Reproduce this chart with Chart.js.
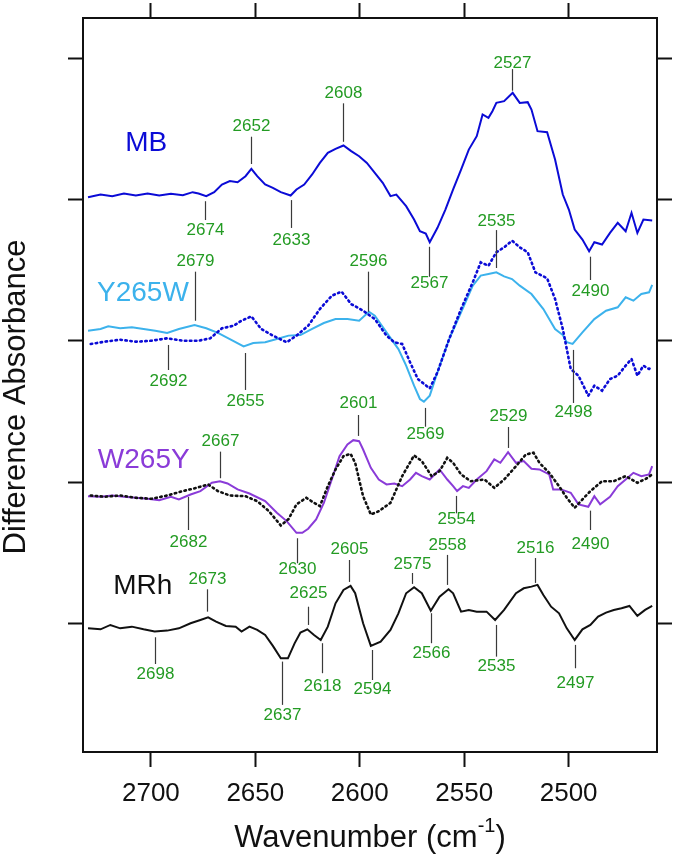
<!DOCTYPE html>
<html>
<head>
<meta charset="utf-8">
<script src="https://cdn.jsdelivr.net/npm/chart.js@4"></script>
<style>
  html, body { margin: 0; padding: 0; background: #fff; }
  #wrap { width: 675px; height: 858px; }
</style>
</head>
<body>
<div id="wrap"><canvas id="spectra" width="675" height="858"></canvas></div>
<script>
// difference spectra, S-H stretch region; [wavenumber, dA] pairs, dA in tick units
const mbSpectrum = [[2730.1,0.016],[2724.1,0.035],[2718.5,0.024],[2712.9,0.042],[2707.2,0.028],[2701.6,0.042],[2696.0,0.028],[2690.4,0.040],[2684.7,0.031],[2680.0,0.052],[2677.2,0.042],[2673.5,0.024],[2669.7,0.052],[2666.0,0.106],[2662.2,0.130],[2658.5,0.122],[2654.7,0.165],[2651.9,0.217],[2649.1,0.165],[2645.3,0.106],[2641.6,0.082],[2637.8,0.052],[2633.1,0.028],[2630.3,0.071],[2626.6,0.106],[2622.8,0.177],[2619.1,0.259],[2615.3,0.330],[2611.6,0.358],[2607.8,0.382],[2604.1,0.342],[2600.3,0.306],[2596.6,0.259],[2592.8,0.188],[2589.0,0.118],[2585.3,0.024],[2582.5,0.035],[2577.8,-0.047],[2574.0,-0.141],[2571.2,-0.224],[2568.4,-0.240],[2566.5,-0.302],[2562.8,-0.200],[2559.0,-0.071],[2555.3,0.071],[2551.5,0.212],[2547.8,0.353],[2544.0,0.448],[2541.2,0.601],[2538.4,0.577],[2536.5,0.624],[2534.6,0.683],[2530.9,0.695],[2526.8,0.754],[2523.4,0.683],[2519.6,0.688],[2517.8,0.636],[2514.9,0.483],[2510.3,0.476],[2506.5,0.283],[2502.8,0.035],[2499.9,-0.071],[2497.1,-0.212],[2493.4,-0.283],[2490.2,-0.365],[2487.7,-0.302],[2484.0,-0.318],[2480.2,-0.236],[2476.5,-0.165],[2472.7,-0.224],[2469.9,-0.094],[2467.1,-0.236],[2464.2,-0.141],[2460.0,-0.148]];

const y265wSpectrum = [[2730.1,0.073],[2724.1,0.085],[2720.4,0.104],[2714.7,0.090],[2709.1,0.097],[2703.5,0.085],[2697.9,0.073],[2692.2,0.057],[2686.6,0.085],[2679.1,0.113],[2673.5,0.090],[2667.9,0.057],[2662.2,0.014],[2655.6,-0.038],[2651.0,-0.014],[2645.3,-0.009],[2639.7,0.014],[2634.1,0.038],[2628.4,0.042],[2622.8,0.085],[2617.2,0.127],[2611.6,0.155],[2605.9,0.155],[2600.3,0.144],[2595.6,0.207],[2592.8,0.179],[2587.2,0.061],[2581.5,-0.057],[2577.8,-0.174],[2574.0,-0.316],[2571.2,-0.410],[2569.3,-0.429],[2566.5,-0.386],[2562.8,-0.221],[2557.2,0.014],[2551.5,0.203],[2545.9,0.391],[2542.1,0.462],[2538.4,0.473],[2534.6,0.485],[2530.9,0.457],[2527.1,0.438],[2523.4,0.391],[2517.8,0.332],[2512.1,0.226],[2506.5,0.085],[2502.8,0.042],[2500.9,-0.009],[2498.1,-0.021],[2493.4,0.061],[2487.7,0.155],[2482.1,0.214],[2476.5,0.238],[2472.7,0.309],[2469.0,0.285],[2465.2,0.332],[2461.5,0.344],[2460.0,0.396]];

// MB again, dotted, under Y265W for comparison
const mbCompare = [[2728.8,-0.021],[2722.2,-0.005],[2714.7,0.009],[2707.2,-0.005],[2699.7,0.002],[2692.2,0.019],[2684.7,0.002],[2677.2,0.002],[2671.6,0.019],[2666.0,0.090],[2660.3,0.108],[2656.6,0.144],[2651.9,0.174],[2647.2,0.085],[2641.6,0.038],[2635.0,-0.009],[2630.3,0.038],[2624.7,0.108],[2619.1,0.226],[2613.4,0.320],[2608.7,0.349],[2604.1,0.261],[2598.4,0.214],[2592.8,0.155],[2587.2,0.038],[2583.4,-0.009],[2579.7,-0.021],[2575.9,-0.151],[2572.2,-0.269],[2566.5,-0.335],[2562.8,-0.221],[2557.2,0.014],[2551.5,0.226],[2545.9,0.415],[2542.1,0.556],[2538.4,0.532],[2534.6,0.627],[2530.9,0.662],[2527.1,0.709],[2523.4,0.662],[2519.6,0.627],[2515.9,0.485],[2510.3,0.443],[2506.5,0.297],[2502.8,0.085],[2499.0,-0.198],[2495.3,-0.245],[2490.6,-0.386],[2487.7,-0.316],[2484.0,-0.351],[2480.2,-0.269],[2476.5,-0.245],[2472.7,-0.174],[2469.9,-0.127],[2467.1,-0.245],[2464.2,-0.174],[2461.5,-0.198],[2460.0,-0.179]];

const w265ySpectrum = [[2730.1,-0.097],[2724.1,-0.101],[2718.5,-0.092],[2712.9,-0.101],[2707.2,-0.108],[2701.6,-0.115],[2696.0,-0.125],[2690.4,-0.101],[2686.6,-0.120],[2681.0,-0.085],[2676.3,-0.061],[2672.6,-0.021],[2670.8,-0.002],[2666.9,0.009],[2663.3,-0.007],[2658.5,-0.049],[2652.8,-0.078],[2645.3,-0.132],[2639.7,-0.214],[2635.0,-0.273],[2630.3,-0.356],[2627.5,-0.356],[2624.7,-0.327],[2620.9,-0.261],[2617.2,-0.144],[2613.4,0.021],[2609.7,0.186],[2605.9,0.269],[2603.1,0.299],[2600.3,0.292],[2598.4,0.233],[2594.7,0.104],[2590.9,0.021],[2587.2,-0.014],[2583.4,-0.007],[2579.7,-0.026],[2575.9,0.021],[2573.1,0.068],[2570.3,0.045],[2566.5,0.021],[2561.8,0.092],[2558.1,0.021],[2555.3,-0.026],[2553.4,-0.061],[2550.6,-0.026],[2547.8,-0.038],[2544.0,0.021],[2539.3,0.080],[2535.6,0.163],[2532.7,0.139],[2529.0,0.214],[2525.2,0.139],[2521.5,0.151],[2517.8,0.097],[2514.0,0.092],[2509.3,0.057],[2507.4,-0.049],[2503.7,-0.049],[2499.0,-0.073],[2495.3,-0.155],[2490.6,-0.172],[2487.7,-0.097],[2484.9,-0.155],[2480.2,-0.101],[2476.5,-0.026],[2472.7,0.021],[2469.0,0.068],[2465.2,0.045],[2461.5,0.057],[2460.0,0.115]];

// MRh, dotted, under W265Y for comparison
const mrhCompare = [[2728.8,-0.092],[2722.2,-0.101],[2714.7,-0.092],[2707.2,-0.108],[2699.7,-0.115],[2692.2,-0.092],[2684.7,-0.061],[2678.2,-0.038],[2672.6,-0.014],[2667.9,-0.061],[2662.2,-0.092],[2654.7,-0.097],[2649.1,-0.132],[2643.5,-0.203],[2637.8,-0.304],[2634.1,-0.259],[2630.3,-0.155],[2625.6,-0.108],[2621.9,-0.144],[2619.1,-0.167],[2615.3,-0.026],[2611.6,0.092],[2607.8,0.186],[2604.4,0.203],[2602.2,0.139],[2598.4,-0.097],[2594.7,-0.226],[2590.9,-0.203],[2585.3,-0.144],[2579.7,0.045],[2574.0,0.191],[2570.3,0.151],[2565.6,0.045],[2561.8,0.080],[2558.1,0.174],[2555.3,0.139],[2551.5,0.057],[2546.9,0.009],[2540.3,0.021],[2535.6,-0.038],[2530.9,0.021],[2525.2,0.115],[2520.5,0.198],[2516.8,0.210],[2514.0,0.139],[2509.3,0.068],[2504.6,-0.026],[2500.9,-0.108],[2497.1,-0.179],[2493.4,-0.120],[2489.6,-0.061],[2484.0,0.009],[2478.4,0.009],[2472.7,0.045],[2467.1,-0.002],[2463.0,0.026],[2460.0,0.057]];

const mrhSpectrum = [[2730.1,-0.031],[2724.1,-0.038],[2719.4,-0.007],[2714.7,-0.031],[2709.1,-0.019],[2703.5,-0.038],[2698.2,-0.054],[2692.2,-0.047],[2686.6,-0.031],[2681.0,0.005],[2676.3,0.028],[2672.6,0.047],[2668.8,0.016],[2664.1,-0.014],[2659.4,-0.019],[2656.6,-0.054],[2652.8,-0.019],[2649.1,-0.042],[2645.3,-0.078],[2641.6,-0.155],[2637.8,-0.243],[2634.4,-0.243],[2631.2,-0.137],[2628.4,-0.061],[2625.1,-0.038],[2621.9,-0.078],[2618.7,-0.113],[2615.3,-0.019],[2611.6,0.146],[2607.8,0.240],[2604.4,0.269],[2602.2,0.217],[2598.4,0.005],[2594.7,-0.155],[2590.0,-0.125],[2585.3,-0.042],[2581.5,0.075],[2577.8,0.217],[2574.0,0.259],[2570.3,0.217],[2566.0,0.094],[2561.8,0.193],[2557.5,0.245],[2555.3,0.217],[2551.5,0.087],[2547.8,0.099],[2544.0,0.087],[2539.3,0.087],[2535.2,0.028],[2530.9,0.099],[2525.2,0.217],[2521.5,0.252],[2517.8,0.264],[2514.9,0.276],[2512.1,0.205],[2508.4,0.122],[2504.6,0.075],[2500.9,-0.031],[2497.1,-0.113],[2493.4,-0.038],[2489.6,-0.007],[2485.9,0.052],[2482.1,0.080],[2478.4,0.099],[2474.7,0.111],[2470.9,0.127],[2467.1,0.057],[2463.4,0.099],[2460.0,0.127]];

// vertical offsets of the stacked traces (one tick each)
const seriesNames = ['MB', 'Y265W', 'W265Y', 'MRh'];
const seriesOffsets = [3, 2, 1, 0];
const seriesColors = ['#0b0bd6', '#3cb2ec', '#8a3bd8', '#111111'];
const nameAnchors = [[2702.2, 3.397], [2703.8, 2.337], [2703.4, 1.159], [2703.9, 0.264]];

// peak labels: [wavenumber, leader from, leader to, label y]
const mbPeaks = [[2674,2.988,2.855,2.784],[2652,3.251,3.444,3.515],[2633,2.996,2.799,2.714],[2608,3.408,3.680,3.750],[2567,2.666,2.454,2.410],[2527,3.769,3.922,3.965],[2490,2.596,2.431,2.348]];
const y265wPeaks = [[2692,1.972,1.795,1.712],[2679,2.143,2.490,2.560],[2655,1.915,1.654,1.571],[2596,2.207,2.490,2.560],[2569,1.527,1.394,1.343],[2535,2.516,2.784,2.843],[2498,1.937,1.562,1.493]];
const w265yPeaks = [[2682,0.898,0.664,0.575],[2667,1.030,1.218,1.288],[2630,0.606,0.429,0.387],[2601,1.329,1.477,1.560],[2554,0.905,0.782,0.742],[2529,1.244,1.392,1.465],[2490,0.801,0.664,0.565]];
const mrhPeaks = [[2698,-0.094,-0.283,-0.353],[2673,0.087,0.245,0.316],[2637,-0.266,-0.572,-0.643],[2625,-0.007,0.122,0.217],[2618,-0.136,-0.348,-0.438],[2605,0.297,0.452,0.528],[2594,-0.184,-0.396,-0.461],[2575,0.283,0.360,0.424],[2566,0.076,-0.136,-0.207],[2558,0.276,0.488,0.558],[2535,-0.007,-0.231,-0.297],[2516,0.290,0.466,0.535],[2497,-0.148,-0.313,-0.419]];
const allPeaks = [mbPeaks, y265wPeaks, w265yPeaks, mrhPeaks];

const xMin = 2457.7, xMax = 2732.5;
const yMin = -0.905, yMax = 4.283;

const FONT = '"Liberation Sans", Arial, sans-serif';

function shifted(spec, off) {
    return spec.map(p => ({ x: p[0], y: p[1] + off }));
}

function trace(label, spec, off, color, dotted) {
    return {
        label: label,
        data: shifted(spec, off),
        borderColor: color,
        borderWidth: dotted ? 2.6 : 2,
        borderDash: dotted ? [1.5, 3.5] : [],
        borderCapStyle: dotted ? 'round' : 'butt',
        pointRadius: 0,
        tension: 0,
        fill: false
    };
}

const labelsPlugin = {
    id: 'peakLabels',
    afterDatasetsDraw(chart) {
        const ctx = chart.ctx;
        const xs = chart.scales.x, ys = chart.scales.y;
        ctx.save();
        // leader lines + green numbers
        allPeaks.forEach(list => {
            list.forEach(pk => {
                const px = Math.round(xs.getPixelForValue(pk[0])) + 0.5;
                ctx.strokeStyle = '#3a3a3a';
                ctx.lineWidth = 1.2;
                ctx.beginPath();
                ctx.moveTo(px, ys.getPixelForValue(pk[1]));
                ctx.lineTo(px, ys.getPixelForValue(pk[2]));
                ctx.stroke();
                ctx.fillStyle = '#239b23';
                ctx.font = '17px ' + FONT;
                ctx.textAlign = 'center';
                ctx.textBaseline = 'middle';
                ctx.fillText(String(pk[0]), px, ys.getPixelForValue(pk[3]));
            });
        });
        // series names
        seriesNames.forEach((name, i) => {
            ctx.fillStyle = seriesColors[i];
            ctx.font = '28px ' + FONT;
            ctx.textAlign = 'center';
            ctx.textBaseline = 'middle';
            ctx.fillText(name, xs.getPixelForValue(nameAnchors[i][0]), ys.getPixelForValue(nameAnchors[i][1]));
        });
        ctx.restore();
    },
    afterDraw(chart) {
        const ctx = chart.ctx;
        const area = chart.chartArea;
        ctx.save();
        ctx.fillStyle = '#111';
        // y title
        ctx.font = '31px ' + FONT;
        ctx.textAlign = 'center';
        ctx.textBaseline = 'middle';
        ctx.translate(16, 397);
        ctx.rotate(-Math.PI / 2);
        ctx.fillText('Difference Absorbance', 0, 0);
        ctx.restore();

        // x title with superscript
        ctx.save();
        ctx.fillStyle = '#111';
        ctx.textBaseline = 'middle';
        ctx.textAlign = 'left';
        const main = 'Wavenumber (cm', sup = '-1', close = ')';
        ctx.font = '31px ' + FONT;
        const w1 = ctx.measureText(main).width, w3 = ctx.measureText(close).width;
        ctx.font = '20px ' + FONT;
        const w2 = ctx.measureText(sup).width;
        const cx = (area.left + area.right) / 2;
        let x0 = cx - (w1 + w2 + w3) / 2;
        const ty = 838;
        ctx.font = '31px ' + FONT;
        ctx.fillText(main, x0, ty);
        ctx.font = '20px ' + FONT;
        ctx.fillText(sup, x0 + w1, ty - 12);
        ctx.font = '31px ' + FONT;
        ctx.fillText(close, x0 + w1 + w2, ty);
        ctx.restore();
    }
};

const axisLine = { color: '#111', width: 2 };
const tickGrid = { drawOnChartArea: false, tickLength: 15, tickWidth: 2, tickColor: '#111' };

new Chart(document.getElementById('spectra').getContext('2d'), {
    type: 'line',
    data: {
        datasets: [
            trace('MB', mbSpectrum, seriesOffsets[0], seriesColors[0], false),
            trace('MB (ref)', mbCompare, seriesOffsets[1], seriesColors[0], true),
            trace('Y265W', y265wSpectrum, seriesOffsets[1], seriesColors[1], false),
            trace('MRh (ref)', mrhCompare, seriesOffsets[2], seriesColors[3], true),
            trace('W265Y', w265ySpectrum, seriesOffsets[2], seriesColors[2], false),
            trace('MRh', mrhSpectrum, seriesOffsets[3], seriesColors[3], false)
        ]
    },
    options: {
        responsive: false,
        animation: false,
        devicePixelRatio: 1,
        layout: { padding: 0 },
        plugins: { legend: { display: false }, tooltip: { enabled: false } },
        scales: {
            x: {
                type: 'linear', position: 'bottom', min: xMin, max: xMax, reverse: true,
                ticks: { stepSize: 50, includeBounds: false, color: '#111', padding: 11, maxRotation: 0,
                         font: { size: 26, family: FONT }, callback: v => String(v) },
                grid: tickGrid, border: axisLine,
                afterFit: s => { s.height = 106; }
            },
            x2: {
                type: 'linear', position: 'top', min: xMin, max: xMax, reverse: true,
                ticks: { stepSize: 50, includeBounds: false, display: false },
                grid: tickGrid, border: axisLine,
                afterFit: s => { s.height = 18; }
            },
            y: {
                type: 'linear', position: 'left', min: yMin, max: yMax,
                ticks: { stepSize: 1, includeBounds: false, display: false },
                grid: tickGrid, border: axisLine,
                afterFit: s => { s.width = 83; }
            },
            y2: {
                type: 'linear', position: 'right', min: yMin, max: yMax,
                ticks: { stepSize: 1, includeBounds: false, display: false },
                grid: tickGrid, border: axisLine,
                afterFit: s => { s.width = 18; }
            }
        }
    },
    plugins: [labelsPlugin]
});
</script>
</body>
</html>
